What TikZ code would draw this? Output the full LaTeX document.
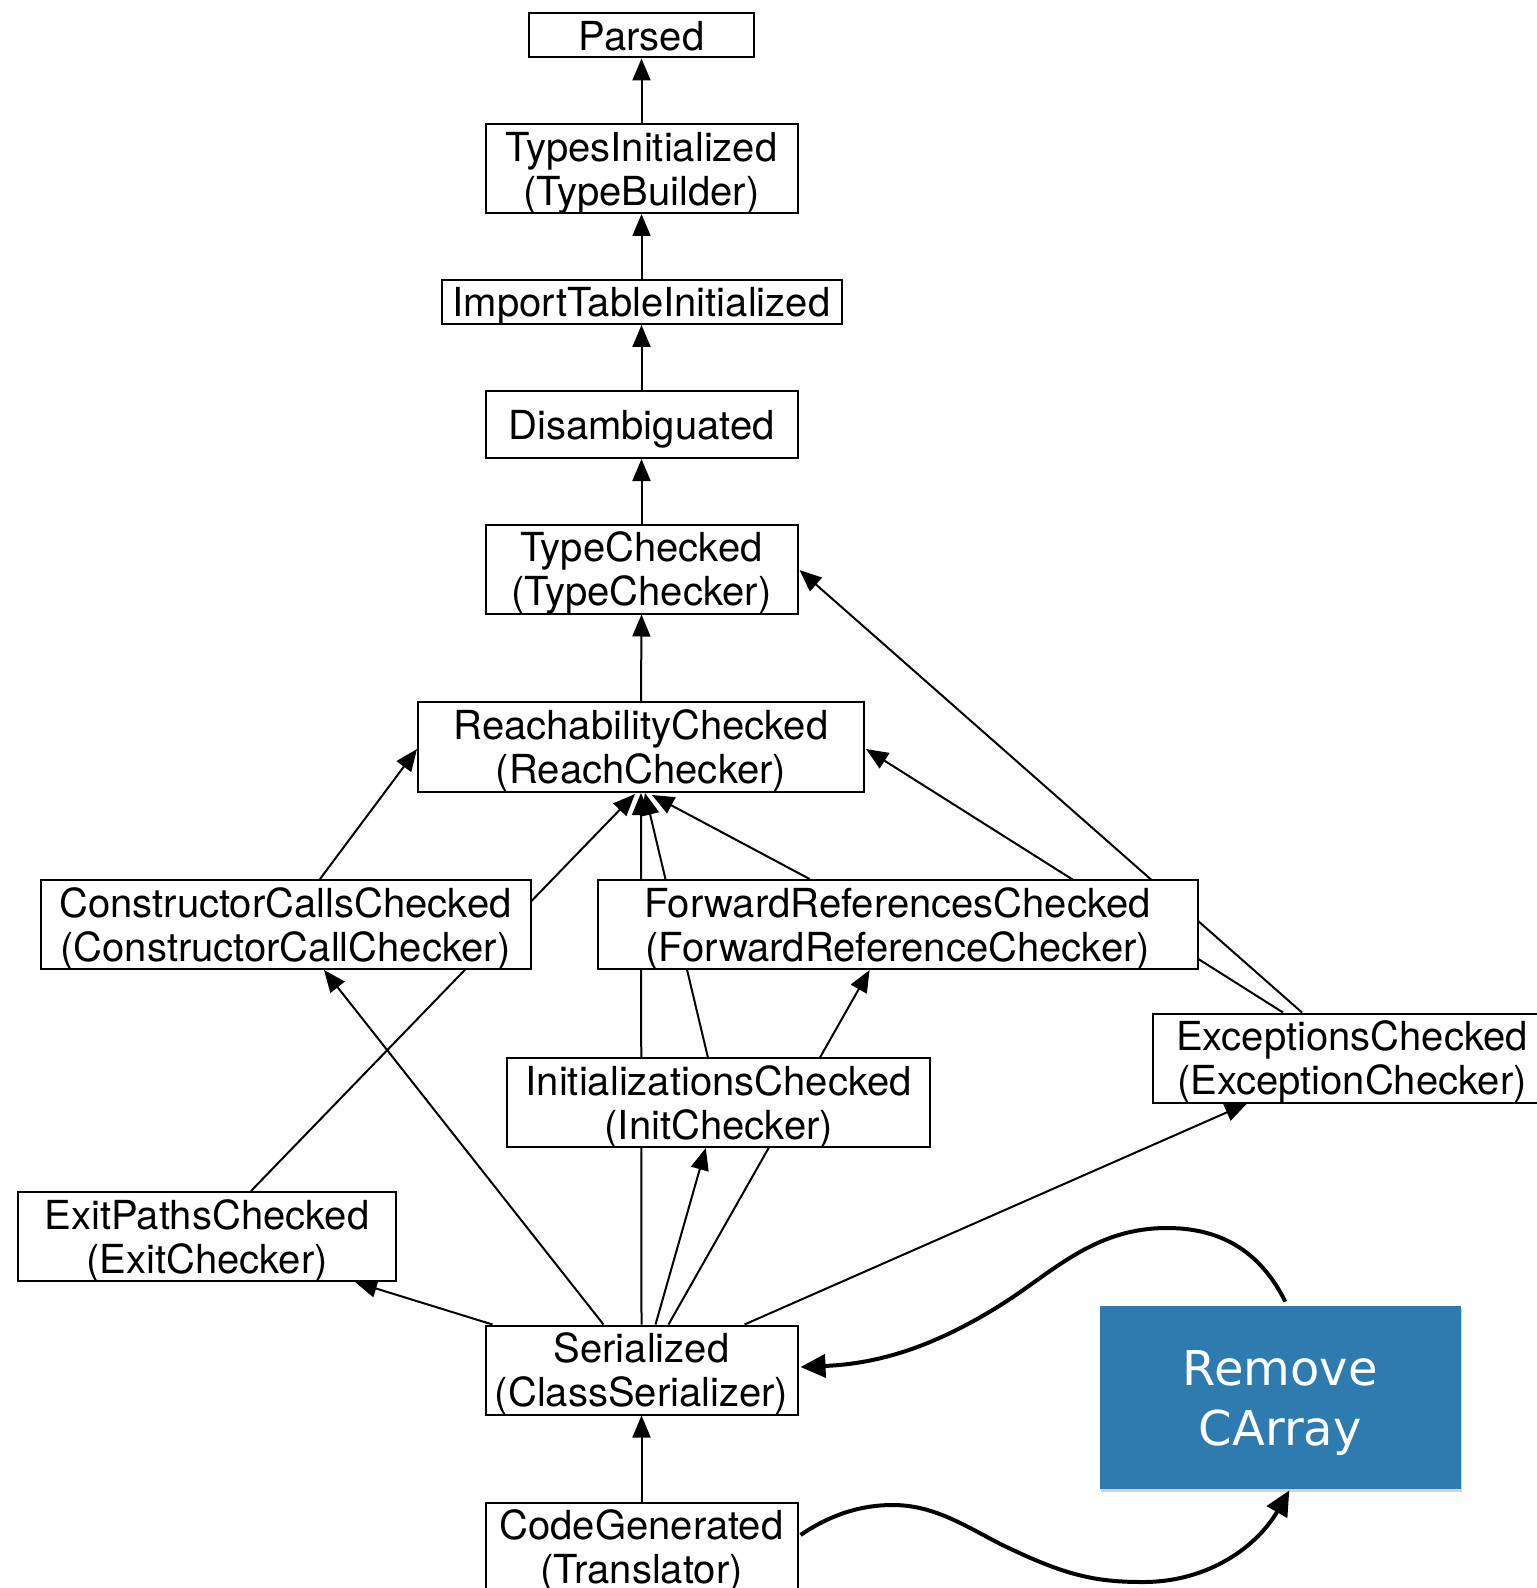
\documentclass[tikz,border=0pt]{standalone}
\usepackage{fontspec}
\newfontfamily\heros{TeX Gyre Heros}
\newfontfamily\dejavu{DejaVu Sans}
\usetikzlibrary{arrows.meta,calc,backgrounds,shadows}
\definecolor{carray}{HTML}{2E7BB0}
\tikzset{
  box/.style={draw, line width=1pt, fill=white, inner sep=0pt, align=center,
    font=\heros\fontsize{20}{22}\selectfont, text depth=0pt},
  edge/.style={line width=1pt, -{Triangle[length=11pt,width=9pt]}},
  curvearrow/.style={line width=2pt, -{Triangle[length=12.5pt,width=11.5pt]}},
  bluebox/.style={fill=carray, inner sep=0pt, align=center, text=white,
    font=\dejavu\fontsize{24}{30}\selectfont, text depth=0pt,
    drop shadow={shadow xshift=0.6pt, shadow yshift=-1.6pt, opacity=0.35}}
}
\begin{document}
\begin{tikzpicture}[x=0.5pt,y=-0.5pt]
\useasboundingbox (0,0) rectangle (1536,1588);
\node[box, minimum width=112.5pt, minimum height=22pt] (P) at (641.5,35.5) {Parsed};
\node[box, minimum width=156pt, minimum height=44.5pt] (TI) at (641.5,168.5) {TypesInitialized\\(TypeBuilder)};
\node[box, minimum width=200pt, minimum height=22pt] (IT) at (641.5,302) {ImportTableInitialized};
\node[box, minimum width=156pt, minimum height=33.5pt] (D) at (641.5,424.5) {Disambiguated};
\node[box, minimum width=156pt, minimum height=44.5pt] (TC) at (641.5,569) {TypeChecked\\(TypeChecker)};
\node[box, minimum width=223pt, minimum height=45pt] (RC) at (641,747) {ReachabilityChecked\\(ReachChecker)};
\node[box, minimum width=245pt, minimum height=44.5pt] (CC) at (285.5,924.5) {ConstructorCallsChecked\\(ConstructorCallChecker)};
\node[box, minimum width=300pt, minimum height=44.5pt] (FR) at (897.6,924.5) {ForwardReferencesChecked\\(ForwardReferenceChecker)};
\node[box, minimum width=199pt, minimum height=44.5pt] (EX) at (1352,1058) {ExceptionsChecked\\(ExceptionChecker)};
\node[box, minimum width=211.5pt, minimum height=44.5pt] (IC) at (718.8,1102.5) {InitializationsChecked\\(InitChecker)};
\node[box, minimum width=189pt, minimum height=44.5pt] (EP) at (207,1236.5) {ExitPathsChecked\\(ExitChecker)};
\node[box, minimum width=156pt, minimum height=44.5pt] (S) at (641.5,1370) {Serialized\\(ClassSerializer)};
\node[box, minimum width=156pt, minimum height=44.5pt] (CG) at (641.5,1547) {CodeGenerated\\(Translator)};
\node[bluebox, minimum width=180.5pt, minimum height=91.5pt] (B) at (1280.3,1397.5) {Remove\\CArray};

\begin{scope}[on background layer]
\draw[edge] (TI.north) -- (P.south);
\draw[edge] (IT.north) -- (TI.south);
\draw[edge] (D.north) -- (IT.south);
\draw[edge] (TC.north) -- (D.south);
\draw[edge] (RC.north) -- (TC.south);
\draw[edge] ($(CC.north)+(34.5,0)$) -- ($(RC.west)+(0,2)$);
\draw[edge] ($(EP.north)+(44,0)$) -- ($(RC.south)+(-6,1)$);
\draw[edge] (S.north) -- (RC.south);
\draw[edge] ($(IC.north)+(-11,0)$) -- ($(RC.south)+(4,0)$);
\draw[edge] ($(FR.north)+(-88,0)$) -- ($(RC.south)+(11,2)$);
\draw[edge] ($(EX.north)+(-69,0)$) -- ($(RC.east)+(1,2)$);
\draw[edge] ($(EX.north)+(-50,0)$) -- ($(TC.east)+(1,1)$);
\draw[edge] ($(S.north)+(27,0)$) -- ($(FR.south)+(-28,0)$);
\draw[edge] ($(S.north)+(-38,0)$) -- ($(CC.south)+(38.5,0)$);
\draw[edge] ($(S.north west)+(8,0)$) -- ($(EP.south)+(148,0)$);
\draw[edge] ($(S.north east)+(-54,0)$) -- ($(EX.south)+(-105,0)$);
\draw[edge] ($(S.north)+(14,0)$) -- ($(IC.south)+(-13,0)$);
\draw[edge] (CG.north) -- (S.south);
\end{scope}

\draw[curvearrow] ($(B.north)+(5,-4)$) .. controls (1262,1255) and (1225,1228) .. (1167,1228)
  .. controls (1100,1228) and (1060,1265) .. (1013,1297)
  .. controls (930,1352) and (870,1364) .. ($(S.east)+(2,-3)$);
\draw[curvearrow] ($(CG.east)+(2,-12)$) .. controls (830,1515) and (860,1505) .. (893,1505)
  .. controls (940,1505) and (975,1533) .. (1013,1550)
  .. controls (1070,1577) and (1100,1582) .. (1143,1582)
  .. controls (1210,1582) and (1258,1545) .. ($(B.south)+(9,1)$);
\end{tikzpicture}
\end{document}
